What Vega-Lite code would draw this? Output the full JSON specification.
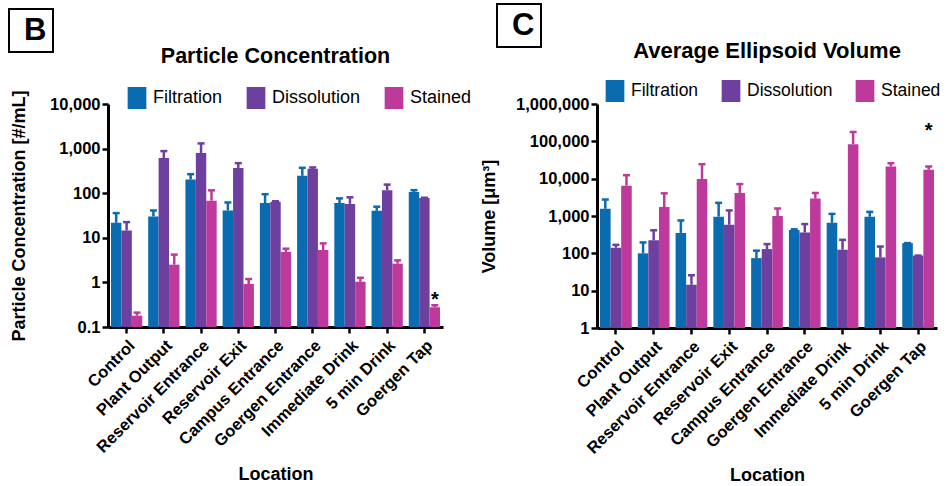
{
  "$schema": "https://vega.github.io/schema/vega-lite/v6.json",
  "padding": {"left": 8, "top": 3, "right": 5, "bottom": 3},
  "datasets": {
    "conc": [
      {"loc": "Control", "method": "Filtration", "value": 21.7, "err": 35.8},
      {"loc": "Control", "method": "Dissolution", "value": 14.6, "err": 22.5},
      {"loc": "Control", "method": "Stained", "value": 0.18, "err": 0.21},
      {"loc": "Plant Output", "method": "Filtration", "value": 30.2, "err": 41},
      {"loc": "Plant Output", "method": "Dissolution", "value": 612, "err": 879},
      {"loc": "Plant Output", "method": "Stained", "value": 2.5, "err": 4.2},
      {"loc": "Reservoir Entrance", "method": "Filtration", "value": 203, "err": 267},
      {"loc": "Reservoir Entrance", "method": "Dissolution", "value": 794, "err": 1307},
      {"loc": "Reservoir Entrance", "method": "Stained", "value": 67.8, "err": 116},
      {"loc": "Reservoir Exit", "method": "Filtration", "value": 41, "err": 62},
      {"loc": "Reservoir Exit", "method": "Dissolution", "value": 365, "err": 472},
      {"loc": "Reservoir Exit", "method": "Stained", "value": 0.92, "err": 1.19},
      {"loc": "Campus Entrance", "method": "Filtration", "value": 60, "err": 95},
      {"loc": "Campus Entrance", "method": "Dissolution", "value": 64.5, "err": 66},
      {"loc": "Campus Entrance", "method": "Stained", "value": 4.8, "err": 5.7},
      {"loc": "Goergen Entrance", "method": "Filtration", "value": 245, "err": 371},
      {"loc": "Goergen Entrance", "method": "Dissolution", "value": 352, "err": 378},
      {"loc": "Goergen Entrance", "method": "Stained", "value": 5.33, "err": 7.5},
      {"loc": "Immediate Drink", "method": "Filtration", "value": 60, "err": 76.5},
      {"loc": "Immediate Drink", "method": "Dissolution", "value": 57.6, "err": 81},
      {"loc": "Immediate Drink", "method": "Stained", "value": 1.03, "err": 1.27},
      {"loc": "5 min Drink", "method": "Filtration", "value": 40.4, "err": 49.8},
      {"loc": "5 min Drink", "method": "Dissolution", "value": 117, "err": 156},
      {"loc": "5 min Drink", "method": "Stained", "value": 2.63, "err": 3.12},
      {"loc": "Goergen Tap", "method": "Filtration", "value": 107, "err": 117},
      {"loc": "Goergen Tap", "method": "Dissolution", "value": 77.8, "err": 79},
      {"loc": "Goergen Tap", "method": "Stained", "value": 0.277, "err": 0.307}
    ],
    "vol": [
      {"loc": "Control", "method": "Filtration", "value": 1563, "err": 2760},
      {"loc": "Control", "method": "Dissolution", "value": 141, "err": 169},
      {"loc": "Control", "method": "Stained", "value": 6460, "err": 12400},
      {"loc": "Plant Output", "method": "Filtration", "value": 100, "err": 196},
      {"loc": "Plant Output", "method": "Dissolution", "value": 225, "err": 414},
      {"loc": "Plant Output", "method": "Stained", "value": 1730, "err": 4050},
      {"loc": "Reservoir Entrance", "method": "Filtration", "value": 352, "err": 760},
      {"loc": "Reservoir Entrance", "method": "Dissolution", "value": 14.4, "err": 25.9},
      {"loc": "Reservoir Entrance", "method": "Stained", "value": 9800, "err": 24400},
      {"loc": "Reservoir Exit", "method": "Filtration", "value": 960, "err": 2250},
      {"loc": "Reservoir Exit", "method": "Dissolution", "value": 584, "err": 1410},
      {"loc": "Reservoir Exit", "method": "Stained", "value": 4140, "err": 7160},
      {"loc": "Campus Entrance", "method": "Filtration", "value": 74.5, "err": 118},
      {"loc": "Campus Entrance", "method": "Dissolution", "value": 130, "err": 177},
      {"loc": "Campus Entrance", "method": "Stained", "value": 1000, "err": 1590},
      {"loc": "Goergen Entrance", "method": "Filtration", "value": 422, "err": 440},
      {"loc": "Goergen Entrance", "method": "Dissolution", "value": 359, "err": 608},
      {"loc": "Goergen Entrance", "method": "Stained", "value": 2930, "err": 4140},
      {"loc": "Immediate Drink", "method": "Filtration", "value": 660, "err": 1140},
      {"loc": "Immediate Drink", "method": "Dissolution", "value": 125, "err": 230},
      {"loc": "Immediate Drink", "method": "Stained", "value": 84100, "err": 178000},
      {"loc": "5 min Drink", "method": "Filtration", "value": 950, "err": 1290},
      {"loc": "5 min Drink", "method": "Dissolution", "value": 78, "err": 152},
      {"loc": "5 min Drink", "method": "Stained", "value": 21200, "err": 25900},
      {"loc": "Goergen Tap", "method": "Filtration", "value": 188, "err": 188},
      {"loc": "Goergen Tap", "method": "Dissolution", "value": 87, "err": 87},
      {"loc": "Goergen Tap", "method": "Stained", "value": 17300, "err": 21200}
    ]
  },
  "config": {
    "font": "Liberation Sans",
    "view": {"stroke": null},
    "axis": {
      "grid": false,
      "domainColor": "black",
      "domainWidth": 3,
      "tickColor": "black",
      "tickWidth": 2.5,
      "tickSize": 6,
      "labelColor": "black",
      "labelFont": "Liberation Sans",
      "labelFontSize": 16.5,
      "labelFontWeight": "bold",
      "titleColor": "black",
      "titleFont": "Liberation Sans",
      "titleFontSize": 18,
      "titleFontWeight": "bold"
    },
    "legend": {
      "orient": "none",
      "direction": "horizontal",
      "title": null,
      "labelFont": "Liberation Sans",
      "labelFontSize": 18,
      "labelColor": "black",
      "labelFontWeight": "normal",
      "symbolType": "M-0.85,-1H0.85V1H-0.85Z",
      "symbolSize": 484,
      "symbolStrokeWidth": 0,
      "symbolOpacity": 1,
      "columnPadding": 22,
      "labelOffset": 5,
      "strokeWidth": 2
    },
    "title": {"fontWeight": "bold", "color": "black", "font": "Liberation Sans", "frame": "group", "offset": 0}
  },
  "spacing": 8,
  "resolve": {
    "scale": {"color": "independent", "shape": "independent", "xOffset": "independent"},
    "legend": {"color": "independent", "shape": "independent"}
  },
  "hconcat": [
    {
      "width": 335, "height": 223,
      "title": {"text": "Particle Concentration", "fontSize": 21.5, "dy": 63},
      "data": {"name": "conc"},
      "encoding": {
        "x": {"field": "loc", "type": "nominal",
          "sort": ["Control", "Plant Output", "Reservoir Entrance", "Reservoir Exit", "Campus Entrance", "Goergen Entrance", "Immediate Drink", "5 min Drink", "Goergen Tap"],
          "scale": {"paddingInner": 0.16, "paddingOuter": 0.08},
          "axis": {"title": "Location", "labelAngle": -45, "titlePadding": 10, "labelPadding": 4}},
        "xOffset": {"field": "method", "type": "nominal", "sort": ["Filtration", "Dissolution", "Stained"], "scale": {"paddingInner": 0, "paddingOuter": 0}}
      },
      "layer": [
        {
          "mark": {"type": "bar"},
          "encoding": {
            "y": {"field": "value", "type": "quantitative", "stack": null, "title": "Particle Concentration [#/mL]",
              "scale": {"type": "log", "domain": [0.1, 10000]},
              "axis": {"values": [0.1, 1, 10, 100, 1000, 10000], "format": ",", "labelPadding": 2, "titlePadding": 21}},
            "color": {"field": "method", "type": "nominal", "sort": ["Filtration", "Dissolution", "Stained"],
              "scale": {"domain": ["Filtration", "Dissolution", "Stained"], "range": ["#0a6bb0", "#6d3f9f", "#bd3a9c"]},
              "legend": {"legendX": 18, "legendY": -17}}
          }
        },
        {
          "mark": {"type": "rule", "strokeWidth": 2.5},
          "encoding": {
            "y": {"field": "value", "type": "quantitative", "stack": null, "title": "Particle Concentration [#/mL]"},
            "y2": {"field": "err"},
            "color": {"field": "method", "type": "nominal", "legend": null}
          }
        },
        {
          "mark": {"type": "tick", "size": 7, "thickness": 2.5, "opacity": 1},
          "encoding": {
            "y": {"field": "err", "type": "quantitative", "stack": null, "title": "Particle Concentration [#/mL]"},
            "color": {"field": "method", "type": "nominal", "legend": null}
          }
        },
        {
          "data": {"values": [{"loc": "Goergen Tap", "method": "Stained", "v": 0.29, "s": "*"}]},
          "mark": {"type": "text", "fontSize": 20, "fontWeight": "bold", "color": "black", "baseline": "alphabetic"},
          "encoding": {
            "y": {"field": "v", "type": "quantitative", "title": "Particle Concentration [#/mL]"},
            "text": {"field": "s"}
          }
        },
        {
          "data": {"values": [{"loc": "Goergen Tap", "method": "Stained", "v": 0.29, "panel": "B"}]},
          "mark": {"type": "point", "opacity": 0},
          "encoding": {
            "y": {"field": "v", "type": "quantitative", "title": "Particle Concentration [#/mL]"},
            "shape": {"field": "panel", "type": "nominal", "legend": {
              "legendX": -99, "legendY": -95, "direction": "vertical",
              "labelFontSize": 31, "labelFontWeight": "bold", "labelColor": "black",
              "labelExpr": "'\u2009' + datum.label + '\u2009'",
              "symbolType": "circle", "symbolSize": 1, "symbolOpacity": 0, "symbolStrokeWidth": 0, "labelOffset": -22,
              "strokeColor": "black", "padding": 6}}
          }
        }
      ]
    },
    {
      "width": 340, "height": 224,
      "title": {"text": "Average Ellipsoid Volume", "fontSize": 22, "dy": 64},
      "data": {"name": "vol"},
      "encoding": {
        "x": {"field": "loc", "type": "nominal",
          "sort": ["Control", "Plant Output", "Reservoir Entrance", "Reservoir Exit", "Campus Entrance", "Goergen Entrance", "Immediate Drink", "5 min Drink", "Goergen Tap"],
          "scale": {"paddingInner": 0.16, "paddingOuter": 0.08},
          "axis": {"title": "Location", "labelAngle": -45, "titlePadding": 10, "labelPadding": 4}},
        "xOffset": {"field": "method", "type": "nominal", "sort": ["Filtration", "Dissolution", "Stained"], "scale": {"paddingInner": 0, "paddingOuter": 0}}
      },
      "layer": [
        {
          "mark": {"type": "bar"},
          "encoding": {
            "y": {"field": "value", "type": "quantitative", "stack": null, "title": "Volume [μm³]",
              "scale": {"type": "log", "domain": [1, 1000000]},
              "axis": {"values": [1, 10, 100, 1000, 10000, 100000, 1000000], "format": ",", "labelPadding": 2, "titlePadding": 17}},
            "color": {"field": "method", "type": "nominal", "sort": ["Filtration", "Dissolution", "Stained"],
              "scale": {"domain": ["Filtration", "Dissolution", "Stained"], "range": ["#0a6bb0", "#6d3f9f", "#bd3a9c"]},
              "legend": {"legendX": 7, "legendY": -24, "columnPadding": 21, "labelFontSize": 17.5}}
          }
        },
        {
          "mark": {"type": "rule", "strokeWidth": 2.5},
          "encoding": {
            "y": {"field": "value", "type": "quantitative", "stack": null, "title": "Volume [μm³]"},
            "y2": {"field": "err"},
            "color": {"field": "method", "type": "nominal", "legend": null}
          }
        },
        {
          "mark": {"type": "tick", "size": 7, "thickness": 2.5, "opacity": 1},
          "encoding": {
            "y": {"field": "err", "type": "quantitative", "stack": null, "title": "Volume [μm³]"},
            "color": {"field": "method", "type": "nominal", "legend": null}
          }
        },
        {
          "data": {"values": [{"loc": "Goergen Tap", "method": "Stained", "v": 128000, "s": "*"}]},
          "mark": {"type": "text", "fontSize": 20, "fontWeight": "bold", "color": "black", "baseline": "alphabetic"},
          "encoding": {
            "y": {"field": "v", "type": "quantitative", "title": "Volume [μm³]"},
            "text": {"field": "s"}
          }
        },
        {
          "data": {"values": [{"loc": "Goergen Tap", "method": "Stained", "v": 100000, "panel": "C"}]},
          "mark": {"type": "point", "opacity": 0},
          "encoding": {
            "y": {"field": "v", "type": "quantitative", "title": "Volume [μm³]"},
            "shape": {"field": "panel", "type": "nominal", "legend": {
              "legendX": -100, "legendY": -100, "direction": "vertical",
              "labelFontSize": 31, "labelFontWeight": "bold", "labelColor": "black",
              "labelExpr": "'\u2009' + datum.label + '\u2009'",
              "symbolType": "circle", "symbolSize": 1, "symbolOpacity": 0, "symbolStrokeWidth": 0, "labelOffset": -22,
              "strokeColor": "black", "padding": 6}}
          }
        }
      ]
    }
  ]
}
